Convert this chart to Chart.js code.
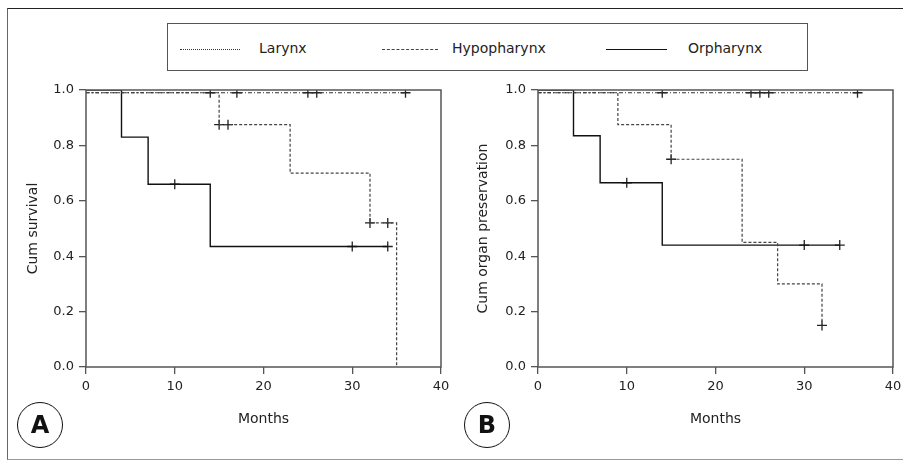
<!DOCTYPE html>
<html>
<head>
<meta charset="utf-8">
<script src="https://cdn.jsdelivr.net/npm/chart.js@4.4.1/dist/chart.umd.min.js"></script>
<style>
  html, body { margin: 0; padding: 0; background: #fff; }
  body { width: 903px; height: 460px; position: relative; overflow: hidden; font-family: 'DejaVu Sans', sans-serif; color: #222; }
  .frame { position: absolute; left: 7px; top: 8px; width: 910px; height: 450px; border-left: 1.5px solid #666; border-top: 1.5px solid #222; border-bottom: 1.5px solid #999; }
  .legend { position: absolute; left: 167px; top: 23px; width: 639px; height: 46px; border: 1.5px solid #555; }
  .sample { position: absolute; top: 25px; height: 0; }
  .lbl { position: absolute; top: 15px; font-size: 14px; line-height: 18px; color: #222; }
  canvas { position: absolute; top: 0; }
  .badge { position: absolute; width: 44px; height: 44px; border: 1.2px solid #111; border-radius: 50%; font-size: 24px; font-weight: bold; line-height: 44px; text-align: center; color: #111; }
</style>
</head>
<body>
<div class="frame"></div>
<div class="legend">
  <div class="sample" style="left:12px;width:60px;border-top:1.3px dotted #333"></div>
  <div class="lbl" style="left:91px">Larynx</div>
  <div class="sample" style="left:214px;width:56px;border-top:1.3px dashed #444"></div>
  <div class="lbl" style="left:284px">Hypopharynx</div>
  <div class="sample" style="left:438px;width:61px;border-top:1.5px solid #111"></div>
  <div class="lbl" style="left:520px">Orpharynx</div>
</div>
<canvas id="chartA" width="451" height="460" style="left:0"></canvas>
<canvas id="chartB" width="452" height="460" style="left:451px"></canvas>
<div class="badge" style="left:17px;top:402px">A</div>
<div class="badge" style="left:464px;top:402px">B</div>

<script>
// axis ticks
const xTicks = [0, 10, 20, 30, 40]
const yTicks = [0, 0.2, 0.4, 0.6, 0.8, 1.0]

// Panel A - cumulative survival (event times / level after event / censored times)
const larynxTimesA = [0, 36]
const larynxSurvA = [0.99, 0.99]
const larynxCensorA = [14, 17, 25, 26, 36]

const hypoTimesA = [0, 15, 23, 32, 35]
const hypoSurvA = [0.99, 0.875, 0.70, 0.52, 0]
const hypoCensorA = [15, 16, 32, 34]

const orphTimesA = [0, 4, 7, 14, 34]
const orphSurvA = [1, 0.83, 0.66, 0.435, 0.435]
const orphCensorA = [10, 30, 34]

// Panel B - cumulative organ preservation
const larynxTimesB = [0, 36]
const larynxSurvB = [0.99, 0.99]
const larynxCensorB = [14, 24, 25, 26, 36]

const hypoTimesB = [0, 9, 15, 23, 27, 32]
const hypoSurvB = [0.99, 0.875, 0.75, 0.45, 0.30, 0.15]
const hypoCensorB = [15, 32]

const orphTimesB = [0, 4, 7, 14, 34]
const orphSurvB = [1, 0.835, 0.665, 0.44, 0.44]
const orphCensorB = [10, 30, 34]

const FONT = "'DejaVu Sans', sans-serif"
const AXIS = '#555'
const TEXT = '#222'

// level of the step curve at time t
function levelAt(times, values, t) {
  let v = values[0]
  for (let i = 0; i < times.length; i++) {
    if (times[i] <= t) v = values[i]
  }
  return v
}

function group(times, values, censor, color, dash, width) {
  return [{
    data: times.map((t, i) => ({ x: t, y: values[i] })),
    stepped: 'before',
    borderColor: color,
    borderWidth: width,
    borderDash: dash,
    pointRadius: 0,
    fill: false
  }, {
    data: censor.map(t => ({ x: t, y: levelAt(times, values, t) })),
    showLine: false,
    pointStyle: 'cross',
    pointRadius: 5,
    borderColor: '#222',
    borderWidth: 1.3
  }]
}

// box around the plot area
const framePlugin = {
  id: 'frame',
  afterDraw(chart) {
    const { ctx, chartArea: a } = chart
    ctx.save()
    ctx.strokeStyle = AXIS
    ctx.lineWidth = 1.5
    ctx.strokeRect(a.left, a.top, a.width, a.height)
    ctx.restore()
  }
}

function makePanel(id, datasets, yTitle, yWidth, yTitlePad, rightPad) {
  new Chart(document.getElementById(id), {
    type: 'line',
    data: { datasets },
    plugins: [framePlugin],
    options: {
      responsive: false,
      animation: false,
      devicePixelRatio: 1,
      layout: { padding: { top: 90, bottom: 13, left: 0, right: rightPad } },
      plugins: { legend: { display: false }, tooltip: { enabled: false } },
      scales: {
        x: {
          type: 'linear',
          min: 0,
          max: 40,
          afterBuildTicks: s => { s.ticks = xTicks.map(v => ({ value: v })) },
          afterFit: s => { s.height = 80; s.paddingLeft = 0; s.paddingRight = 0 },
          border: { display: false },
          grid: { drawOnChartArea: false, drawTicks: true, tickLength: 7, color: AXIS, lineWidth: 1.3 },
          ticks: { color: TEXT, padding: 5, maxRotation: 0, font: { family: FONT, size: 13 } },
          title: { display: true, text: 'Months', color: TEXT, padding: { bottom: 19 }, font: { family: FONT, size: 14 } }
        },
        y: {
          min: 0,
          max: 1,
          afterBuildTicks: s => { s.ticks = yTicks.map(v => ({ value: v })) },
          afterFit: s => { s.width = yWidth; s.paddingTop = 0; s.paddingBottom = 0 },
          border: { display: false },
          grid: { drawOnChartArea: false, drawTicks: true, tickLength: 7, color: AXIS, lineWidth: 1.3 },
          ticks: { color: TEXT, padding: 5, font: { family: FONT, size: 13 }, callback: v => Number(v).toFixed(1) },
          title: { display: true, text: yTitle, color: TEXT, padding: { top: yTitlePad }, font: { family: FONT, size: 14 } }
        }
      }
    }
  })
}

makePanel('chartA', [
  ...group(larynxTimesA, larynxSurvA, larynxCensorA, '#333', [4, 2, 1, 2], 1.2),
  ...group(hypoTimesA, hypoSurvA, hypoCensorA, '#444', [3, 2], 1.2),
  ...group(orphTimesA, orphSurvA, orphCensorA, '#111', [], 1.4)
], 'Cum survival', 86, 25, 10)

makePanel('chartB', [
  ...group(larynxTimesB, larynxSurvB, larynxCensorB, '#333', [4, 2, 1, 2], 1.2),
  ...group(hypoTimesB, hypoSurvB, hypoCensorB, '#444', [3, 2], 1.2),
  ...group(orphTimesB, orphSurvB, orphCensorB, '#111', [], 1.4)
], 'Cum organ preservation', 87, 24, 10)
</script>
</body>
</html>
